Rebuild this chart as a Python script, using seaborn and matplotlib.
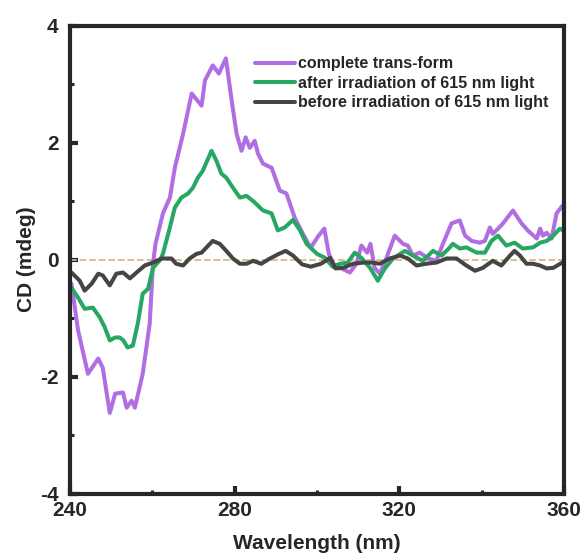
"""
CD spectra before / after 615 nm irradiation
"""

import matplotlib
matplotlib.use('AGG')
import matplotlib.pyplot as plt
from matplotlib.ticker import MultipleLocator
import pandas as pd
import seaborn as sns

# complete trans-form
wl_trans = [240.4, 242.0, 244.4, 246.9, 248.0, 249.7, 251.0, 252.9, 253.8, 255.0,
            255.8, 257.7, 259.4, 260.2, 260.8, 262.6, 264.3, 265.5, 267.5, 269.6,
            272.0, 272.8, 274.7, 276.2, 277.9, 279.3, 280.5, 281.7, 282.7, 283.7,
            284.9, 285.7, 286.9, 289.0, 291.0, 292.6, 294.6, 296.6, 298.5, 300.3,
            301.8, 302.9, 304.0, 306.0, 308.0, 309.6, 310.8, 312.2, 313.0, 314.0,
            315.3, 316.9, 318.9, 320.9, 322.1, 323.3, 325.0, 327.0, 329.0, 330.6,
            332.7, 334.7, 336.0, 337.6, 339.6, 340.8, 342.0, 342.7, 344.0, 345.2,
            347.6, 349.7, 351.2, 353.4, 354.2, 354.9, 355.8, 357.0, 358.2, 359.6]
cd_trans = [-0.41, -1.21, -1.95, -1.69, -1.85, -2.62, -2.29, -2.27, -2.53, -2.41,
            -2.53, -1.95, -1.09, -0.07, 0.27, 0.79, 1.06, 1.57, 2.15, 2.84,
            2.63, 3.06, 3.32, 3.18, 3.44, 2.72, 2.15, 1.86, 2.09, 1.91,
            2.03, 1.81, 1.64, 1.57, 1.18, 1.13, 0.72, 0.44, 0.20, 0.40,
            0.53, 0.10, -0.07, -0.15, -0.22, -0.07, 0.24, 0.12, 0.27, -0.14,
            -0.24, 0.03, 0.41, 0.27, 0.24, 0.07, 0.12, 0.02, -0.02, 0.27,
            0.62, 0.67, 0.41, 0.32, 0.29, 0.32, 0.55, 0.44, 0.53, 0.62,
            0.84, 0.62, 0.50, 0.36, 0.53, 0.41, 0.46, 0.36, 0.79, 0.92]

# after irradiation of 615 nm light
wl_after = [240.4, 242.0, 243.6, 245.6, 247.3, 248.5, 249.7, 251.0, 252.1, 253.0,
            254.0, 255.3, 256.5, 257.7, 259.0, 260.2, 262.0, 262.6, 264.3, 265.5,
            267.1, 268.7, 269.9, 271.1, 272.3, 274.4, 275.6, 276.8, 278.0, 279.6,
            281.3, 282.9, 284.7, 286.9, 289.0, 290.5, 292.2, 294.2, 295.9, 297.5,
            300.0, 302.0, 303.8, 305.6, 307.5, 309.2, 310.8, 312.9, 314.8, 316.5,
            318.5, 321.4, 323.3, 325.7, 328.2, 330.3, 332.3, 333.0, 334.7, 336.3,
            338.8, 340.8, 342.4, 344.0, 346.0, 348.0, 350.0, 352.5, 354.2, 355.8,
            357.0, 359.0, 359.8]
cd_after = [-0.48, -0.65, -0.84, -0.82, -0.99, -1.16, -1.38, -1.33, -1.33, -1.38,
            -1.50, -1.47, -1.09, -0.58, -0.50, -0.14, 0.00, 0.10, 0.55, 0.89,
            1.06, 1.13, 1.23, 1.40, 1.52, 1.86, 1.69, 1.47, 1.40, 1.23,
            1.06, 1.09, 0.99, 0.84, 0.79, 0.50, 0.55, 0.68, 0.50, 0.27,
            0.10, 0.03, -0.12, -0.07, -0.05, 0.12, 0.03, -0.14, -0.36, -0.15,
            0.02, 0.15, 0.07, -0.02, 0.15, 0.07, 0.21, 0.27, 0.19, 0.21,
            0.12, 0.12, 0.32, 0.41, 0.24, 0.29, 0.19, 0.21, 0.29, 0.32,
            0.38, 0.53, 0.50]

# before irradiation of 615 nm light
wl_before = [240.4, 242.4, 243.6, 245.3, 246.9, 248.0, 249.7, 251.3, 252.9, 254.6,
             256.2, 258.2, 260.2, 262.3, 264.7, 265.8, 267.5, 269.1, 270.8, 272.0,
             273.2, 274.7, 276.4, 278.0, 279.6, 281.3, 282.9, 284.5, 286.5, 288.6,
             290.8, 292.4, 294.2, 296.4, 298.5, 301.0, 303.2, 304.5, 306.4, 308.8,
             311.3, 313.3, 315.3, 317.7, 320.2, 322.1, 324.2, 326.6, 329.0, 331.5,
             333.9, 336.3, 338.4, 340.3, 342.7, 344.8, 346.9, 348.0, 349.3, 350.9,
             352.5, 354.2, 355.8, 357.4, 359.6]
cd_before = [-0.22, -0.36, -0.53, -0.41, -0.24, -0.27, -0.44, -0.24, -0.22, -0.32,
             -0.22, -0.10, -0.05, 0.02, 0.02, -0.07, -0.10, 0.02, 0.10, 0.12,
             0.21, 0.32, 0.27, 0.15, 0.02, -0.07, -0.07, -0.02, -0.07, 0.02,
             0.10, 0.15, 0.07, -0.08, -0.12, -0.07, 0.03, -0.15, -0.14, -0.07,
             -0.05, -0.05, -0.07, 0.02, 0.07, 0.02, -0.10, -0.07, -0.05, 0.02,
             0.02, -0.10, -0.19, -0.14, -0.02, -0.10, 0.07, 0.15, 0.07, -0.07,
             -0.07, -0.10, -0.15, -0.14, -0.05]

labels = ['complete trans-form',
          'after irradiation of 615 nm light',
          'before irradiation of 615 nm light']
colors = ['#b16ee2', '#27a764', '#454545']

frames = []
for lab, wl, cd in zip(labels, [wl_trans, wl_after, wl_before], [cd_trans, cd_after, cd_before]):
    frames.append(pd.DataFrame({'wl': wl, 'cd': cd, 'sample': lab}))
data = pd.concat(frames, ignore_index=True)

sns.set_style('ticks')
plt.rcParams['font.family'] = ['Liberation Sans', 'DejaVu Sans']
plt.rcParams['font.weight'] = 'bold'
plt.rcParams['axes.unicode_minus'] = False

fig = plt.figure(figsize=(5.82, 5.56), dpi=100)
ax = fig.add_axes([0.120, 0.112, 0.849, 0.842])

ax.axhline(0, color='#d9b98a', lw=1.3, ls='--', zorder=1)
sns.lineplot(data=data, x='wl', y='cd', hue='sample', hue_order=labels,
             palette=colors, estimator=None, sort=False, lw=2.9, ax=ax, zorder=2)

ax.set_xlim(240, 360)
ax.set_ylim(-4, 4)
ax.xaxis.set_major_locator(MultipleLocator(40))
ax.xaxis.set_minor_locator(MultipleLocator(20))
ax.yaxis.set_major_locator(MultipleLocator(2))
ax.yaxis.set_minor_locator(MultipleLocator(1))
ax.tick_params(which='major', direction='in', length=6, width=3, labelsize=15)
ax.tick_params(which='minor', direction='in', length=3, width=2.2)
ax.tick_params(axis='x', which='major', pad=5)
ax.tick_params(axis='y', which='major', pad=8)
for sp in ax.spines.values():
    sp.set_linewidth(3)
    sp.set_visible(True)

ax.set_xlabel('Wavelength (nm)', fontsize=15, fontweight='bold', labelpad=10.5)
ax.set_ylabel('CD (mdeg)', fontsize=15, fontweight='bold', labelpad=3)

ax.legend(loc='upper left', bbox_to_anchor=(0.3745, 0.934), frameon=False,
          borderpad=0, borderaxespad=0, handlelength=2.5, handletextpad=0.2,
          labelspacing=0.27, prop={'weight': 'bold', 'size': 11.5})

fig.savefig('out.png', dpi=100)
plt.close()
